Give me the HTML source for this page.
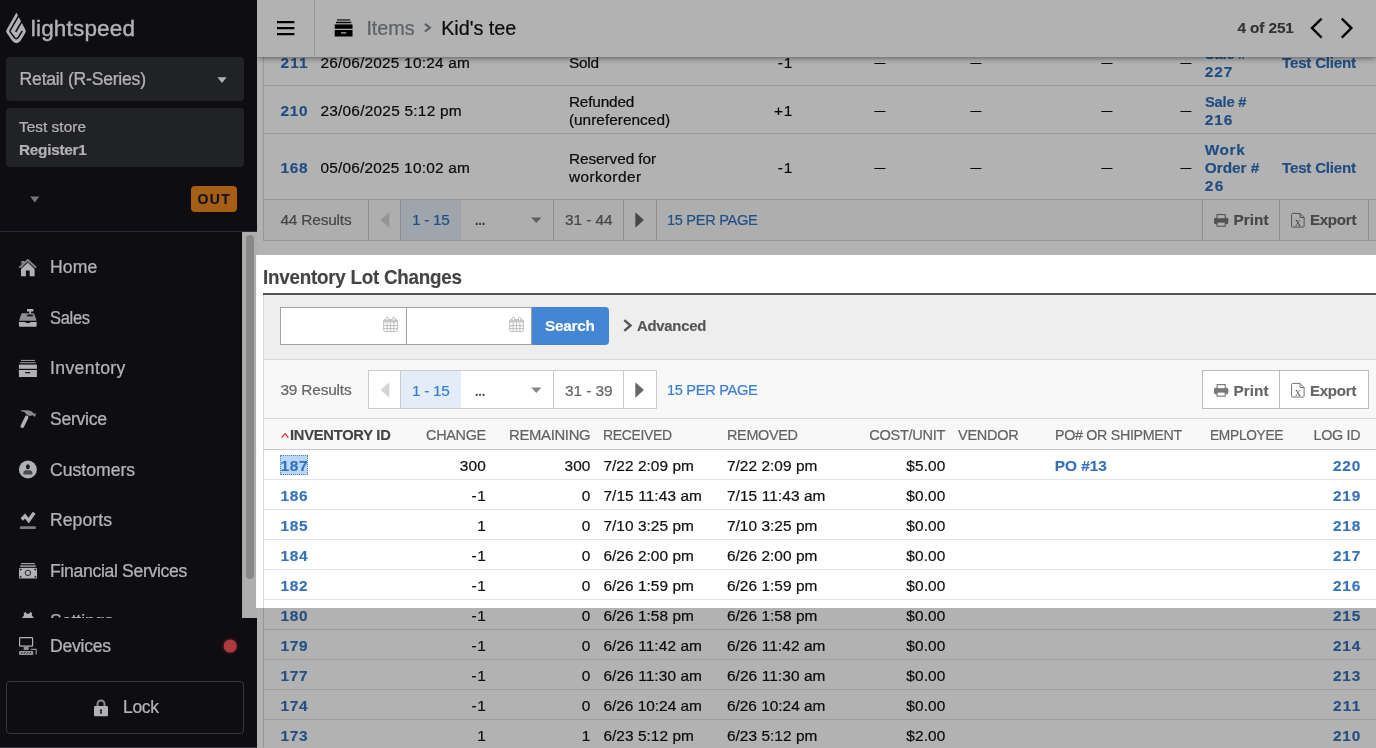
<!DOCTYPE html>
<html lang="en">
<head>
<meta charset="utf-8">
<title>Kid's tee - Lightspeed Retail</title>
<style>
html,body{margin:0;padding:0}
body{width:1376px;height:748px;overflow:hidden;position:relative;background:#fff;font-family:"Liberation Sans",sans-serif}
.t{position:absolute;white-space:pre;line-height:20px}
.a{position:absolute}
.logo{-webkit-text-stroke:.35px #fff}
.n{-webkit-text-stroke:.22px}
.b{-webkit-text-stroke:.15px}
.ln{position:absolute;background:#ddd}
#main{position:absolute;left:257px;top:0;width:1119px;height:748px;background:#fff;overflow:hidden}
#all{position:absolute;left:0;top:0;width:1376px;height:748px;overflow:hidden}
#sidebar{position:absolute;left:0;top:0;width:257px;height:748px;background:#13141a}
#sbscroll{position:absolute;left:0;top:0;width:257px;height:618px;overflow:hidden}
.dim{position:absolute;background:rgba(0,0,0,.3);z-index:50}
svg{position:absolute;overflow:visible}
</style>
</head>
<body>
<div id="all">

<!-- ================= MAIN CONTENT ================= -->
<div id="main"></div>

<!-- top table panel -->
<div class="a" style="left:263px;top:0;width:1113px;height:199px;background:#fff;border-left:1px solid #dcdcdc"></div>
<div class="ln" style="left:264px;top:85px;width:1112px;height:1px"></div>
<div class="ln" style="left:264px;top:133px;width:1112px;height:1px"></div>
<!-- top pager bar -->
<div class="a" style="left:263px;top:199px;width:1113px;height:40px;background:#f9f9f9;border:1px solid #d8d8d8;border-right:0"></div>
<div class="ln" style="left:368px;top:200px;width:1px;height:40px;background:#ccc"></div>
<div class="ln" style="left:400px;top:200px;width:1px;height:40px;background:#ccc"></div>
<div class="a" style="left:401px;top:200px;width:60px;height:40px;background:#e3edf8"></div>
<div class="ln" style="left:553px;top:200px;width:1px;height:40px;background:#ccc"></div>
<div class="ln" style="left:623px;top:200px;width:1px;height:40px;background:#ccc"></div>
<div class="ln" style="left:656px;top:200px;width:1px;height:40px;background:#ccc"></div>
<div class="ln" style="left:1202px;top:200px;width:1px;height:40px;background:#ccc"></div>
<div class="ln" style="left:1279px;top:200px;width:1px;height:40px;background:#ccc"></div>
<div class="ln" style="left:1368px;top:200px;width:1px;height:40px;background:#ccc"></div>
<svg style="left:0;top:-170.4px" width="1376" height="748" viewBox="0 0 1376 748">
  <use href="#pagericons"/>
</svg>

<!-- ===== Inventory Lot Changes ===== -->
<div class="a" style="left:263px;top:293px;width:1113px;height:2px;background:#555"></div>
<div class="a" style="left:263px;top:295px;width:1113px;height:64px;background:#eee;border-left:1px solid #d8d8d8;box-sizing:border-box"></div>
<div class="ln" style="left:263px;top:359px;width:1113px;height:1px;background:#d8d8d8"></div>
<!-- inputs -->
<div class="a" style="left:280px;top:307px;width:252px;height:38px;background:#fff;border:1px solid #a2a2a2;box-sizing:border-box"></div>
<div class="ln" style="left:406px;top:308px;width:1px;height:36px;background:#a2a2a2"></div>
<div class="a" style="left:532px;top:307px;width:77px;height:38px;background:#4286d4;border-radius:0 4px 4px 0"></div>
<svg style="left:0;top:0" width="1376" height="748" viewBox="0 0 1376 748">
  <defs>
    <g id="cal" fill="none" stroke="#bdbdbd" stroke-width="1">
      <rect x="0.5" y="3" width="13.6" height="12" rx="1.4"/>
      <path d="M0.5 4.6h13.6" stroke-width="2.6" stroke="#c6c6c6"/>
      <path d="M0.5 9h13.6M0.5 12h13.6M3.9 6v9M7.300 6v9M10.700 6v9"/>
      <rect x="2.900" y="0.600" width="2.300" height="3.800" rx="1.100" fill="#fff"/>
      <rect x="9.400" y="0.600" width="2.300" height="3.800" rx="1.100" fill="#fff"/>
    </g>
    <g id="pagericons">
      <path d="M389.3 382.3L380.7 390L389.3 397.7Z" fill="#d3d3d3"/>
      <path d="M635.3 382.3L643.9 390L635.3 397.7Z" fill="#666"/>
      <path d="M531.2 387.5h10.2l-5.1 5.6z" fill="#888"/>
      <!-- print icon -->
      <g fill="#777">
        <rect x="1214" y="387.7" width="14.3" height="6.5" rx="1.6"/>
        <rect x="1217.1" y="384.6" width="8.1" height="4.2" fill="#fff" stroke="#777" stroke-width="1.1"/>
        <rect x="1217.1" y="392.1" width="8.1" height="4.1" fill="#fff" stroke="#777" stroke-width="1.1"/>
      </g>
      <!-- export icon -->
      <g fill="none" stroke="#777" stroke-width="1">
        <path d="M1292.6 383.4h7.4l4.1 4.1v8.6a1 1 0 0 1-1 1h-10.5a1 1 0 0 1-1-1v-11.7a1 1 0 0 1 1-1z"/>
        <path d="M1300 383.4v4.1h4.1"/>
      </g>
      <text x="1297.9" y="395.7" text-anchor="middle" font-family="'Liberation Serif',serif" font-size="12.5" fill="#666">x</text>
    </g>
  </defs>
  <use href="#cal" x="383.2" y="316.6"/>
  <use href="#cal" x="509.2" y="316.6"/>
  <path d="M624.3 320.2L630.5 325.5L624.3 330.8" fill="none" stroke="#555" stroke-width="2.4"/>
</svg>
<!-- pager panel -->
<div class="a" style="left:263px;top:360px;width:1113px;height:58px;background:#f8f8f8;border-left:1px solid #d8d8d8;box-sizing:border-box"></div>
<div class="a" style="left:368px;top:370px;width:289px;height:39px;background:#fff;border:1px solid #ccc;box-sizing:border-box"></div>
<div class="ln" style="left:400px;top:371px;width:1px;height:37px;background:#ccc"></div>
<div class="a" style="left:401px;top:371px;width:60px;height:37px;background:#e3edf8"></div>
<div class="ln" style="left:553px;top:371px;width:1px;height:37px;background:#ccc"></div>
<div class="ln" style="left:623px;top:371px;width:1px;height:37px;background:#ccc"></div>
<div class="a" style="left:1202px;top:370px;width:167px;height:39px;background:#fff;border:1px solid #bbb;box-sizing:border-box"></div>
<div class="ln" style="left:1279px;top:371px;width:1px;height:37px;background:#bbb"></div>
<svg style="left:0;top:0" width="1376" height="748" viewBox="0 0 1376 748"><use href="#pagericons"/></svg>
<!-- table header -->
<div class="ln" style="left:263px;top:418px;width:1113px;height:1px;background:#d8d8d8"></div>
<div class="a" style="left:263px;top:419px;width:1113px;height:30px;background:#f8f8f8;border-left:1px solid #d8d8d8;box-sizing:border-box"></div>
<div class="ln" style="left:263px;top:449px;width:1113px;height:1px;background:#c8c8c8"></div>
<svg style="left:0;top:0" width="1376" height="748" viewBox="0 0 1376 748"><path d="M281.6 437.6L285 433.8L288.4 437.6" fill="none" stroke="#e0333f" stroke-width="1.3"/></svg>
<!-- rows -->
<div class="a" style="left:263px;top:450px;width:1px;height:298px;background:#d8d8d8"></div>
<div class="ln" style="left:264px;top:479px;width:1112px;height:1px;background:#e2e2e2"></div>
<div class="ln" style="left:264px;top:509px;width:1112px;height:1px;background:#e2e2e2"></div>
<div class="ln" style="left:264px;top:539px;width:1112px;height:1px;background:#e2e2e2"></div>
<div class="ln" style="left:264px;top:569px;width:1112px;height:1px;background:#e2e2e2"></div>
<div class="ln" style="left:264px;top:599px;width:1112px;height:1px;background:#e2e2e2"></div>
<div class="ln" style="left:264px;top:629px;width:1112px;height:1px;background:#e2e2e2"></div>
<div class="ln" style="left:264px;top:659px;width:1112px;height:1px;background:#e2e2e2"></div>
<div class="ln" style="left:264px;top:689px;width:1112px;height:1px;background:#e2e2e2"></div>
<div class="ln" style="left:264px;top:719px;width:1112px;height:1px;background:#e2e2e2"></div>
<!-- selection on 187 -->
<div class="a" style="left:280px;top:455px;width:28px;height:20px;background:#b9d6fb;border:1px dotted #5b7fae;box-sizing:border-box"></div>

<span class="t b" style="left:280.40px;font-size:15.4px;font-weight:700;color:#2f6fba;top:53px;letter-spacing:1.194px;">211</span>
<span class="t n" style="left:320.40px;font-size:15.4px;font-weight:400;color:#111;top:53px;letter-spacing:0.219px;">26/06/2025 10:24 am</span>
<span class="t n" style="left:568.90px;font-size:15.4px;font-weight:400;color:#111;top:53px;letter-spacing:-0.194px;">Sold</span>
<span class="t n" style="right:583.08px;font-size:15.4px;font-weight:400;color:#111;top:53px;letter-spacing:0.723px;">-1</span>
<span class="t n" style="right:490.20px;font-size:15.4px;font-weight:400;color:#111;top:52px;letter-spacing:0.000px;transform:scaleX(0.7017);transform-origin:100% 50%;">—</span>
<span class="t n" style="right:394.40px;font-size:15.4px;font-weight:400;color:#111;top:52px;letter-spacing:0.000px;transform:scaleX(0.7017);transform-origin:100% 50%;">—</span>
<span class="t n" style="right:263.60px;font-size:15.4px;font-weight:400;color:#111;top:52px;letter-spacing:0.000px;transform:scaleX(0.7017);transform-origin:100% 50%;">—</span>
<span class="t n" style="right:184.20px;font-size:15.4px;font-weight:400;color:#111;top:52px;letter-spacing:0.000px;transform:scaleX(0.7017);transform-origin:100% 50%;">—</span>
<span class="t b" style="left:1204.70px;font-size:15.4px;font-weight:700;color:#2f6fba;top:44px;letter-spacing:-0.250px;transform:scaleX(0.9567);transform-origin:0 50%;">Sale #</span>
<span class="t b" style="left:1204.70px;font-size:15.4px;font-weight:700;color:#2f6fba;top:62px;letter-spacing:1.022px;">227</span>
<span class="t b" style="right:20.45px;font-size:15.4px;font-weight:700;color:#2f6fba;top:53px;letter-spacing:-0.250px;transform:scaleX(0.9851);transform-origin:100% 50%;">Test Client</span>
<span class="t b" style="left:280.40px;font-size:15.4px;font-weight:700;color:#2f6fba;top:101px;letter-spacing:0.772px;">210</span>
<span class="t n" style="left:320.40px;font-size:15.4px;font-weight:400;color:#111;top:101px;letter-spacing:0.254px;">23/06/2025 5:12 pm</span>
<span class="t n" style="left:568.90px;font-size:15.4px;font-weight:400;color:#111;top:92px;letter-spacing:-0.174px;">Refunded</span>
<span class="t n" style="left:568.90px;font-size:15.4px;font-weight:400;color:#111;top:110px;letter-spacing:0.021px;">(unreferenced)</span>
<span class="t n" style="right:583.22px;font-size:15.4px;font-weight:400;color:#111;top:101px;letter-spacing:0.579px;">+1</span>
<span class="t n" style="right:490.20px;font-size:15.4px;font-weight:400;color:#111;top:100px;letter-spacing:0.000px;transform:scaleX(0.7017);transform-origin:100% 50%;">—</span>
<span class="t n" style="right:394.40px;font-size:15.4px;font-weight:400;color:#111;top:100px;letter-spacing:0.000px;transform:scaleX(0.7017);transform-origin:100% 50%;">—</span>
<span class="t n" style="right:263.60px;font-size:15.4px;font-weight:400;color:#111;top:100px;letter-spacing:0.000px;transform:scaleX(0.7017);transform-origin:100% 50%;">—</span>
<span class="t n" style="right:184.20px;font-size:15.4px;font-weight:400;color:#111;top:100px;letter-spacing:0.000px;transform:scaleX(0.7017);transform-origin:100% 50%;">—</span>
<span class="t b" style="left:1204.70px;font-size:15.4px;font-weight:700;color:#2f6fba;top:92px;letter-spacing:-0.250px;transform:scaleX(0.9567);transform-origin:0 50%;">Sale #</span>
<span class="t b" style="left:1204.70px;font-size:15.4px;font-weight:700;color:#2f6fba;top:110px;letter-spacing:1.022px;">216</span>
<span class="t b" style="left:280.40px;font-size:15.4px;font-weight:700;color:#2f6fba;top:158px;letter-spacing:0.772px;">168</span>
<span class="t n" style="left:320.40px;font-size:15.4px;font-weight:400;color:#111;top:158px;letter-spacing:0.219px;">05/06/2025 10:02 am</span>
<span class="t n" style="left:568.90px;font-size:15.4px;font-weight:400;color:#111;top:149px;letter-spacing:-0.080px;">Reserved for</span>
<span class="t n" style="left:568.90px;font-size:15.4px;font-weight:400;color:#111;top:167px;letter-spacing:0.474px;">workorder</span>
<span class="t n" style="right:583.08px;font-size:15.4px;font-weight:400;color:#111;top:158px;letter-spacing:0.723px;">-1</span>
<span class="t n" style="right:490.20px;font-size:15.4px;font-weight:400;color:#111;top:157px;letter-spacing:0.000px;transform:scaleX(0.7017);transform-origin:100% 50%;">—</span>
<span class="t n" style="right:394.40px;font-size:15.4px;font-weight:400;color:#111;top:157px;letter-spacing:0.000px;transform:scaleX(0.7017);transform-origin:100% 50%;">—</span>
<span class="t n" style="right:263.60px;font-size:15.4px;font-weight:400;color:#111;top:157px;letter-spacing:0.000px;transform:scaleX(0.7017);transform-origin:100% 50%;">—</span>
<span class="t n" style="right:184.20px;font-size:15.4px;font-weight:400;color:#111;top:157px;letter-spacing:0.000px;transform:scaleX(0.7017);transform-origin:100% 50%;">—</span>
<span class="t b" style="left:1204.70px;font-size:15.4px;font-weight:700;color:#2f6fba;top:140px;letter-spacing:0.643px;">Work</span>
<span class="t b" style="left:1204.70px;font-size:15.4px;font-weight:700;color:#2f6fba;top:158px;letter-spacing:-0.003px;">Order #</span>
<span class="t b" style="left:1204.70px;font-size:15.4px;font-weight:700;color:#2f6fba;top:176px;letter-spacing:1.607px;">26</span>
<span class="t b" style="right:20.45px;font-size:15.4px;font-weight:700;color:#2f6fba;top:158px;letter-spacing:-0.250px;transform:scaleX(0.9851);transform-origin:100% 50%;">Test Client</span>
<span class="t n" style="left:280.40px;font-size:15.4px;font-weight:400;color:#666;top:210px;letter-spacing:-0.165px;">44 Results</span>
<span class="t n" style="left:412.40px;font-size:15.4px;font-weight:400;color:#3273c0;top:210px;letter-spacing:-0.320px;transform:scaleX(0.9993);transform-origin:0 50%;">1 - 15</span>
<span class="t b" style="left:475.00px;font-size:15.4px;font-weight:700;color:#555;top:210px;letter-spacing:-0.250px;transform:scaleX(0.8291);transform-origin:0 50%;">...</span>
<span class="t n" style="left:564.90px;font-size:15.4px;font-weight:400;color:#666;top:210px;letter-spacing:-0.048px;">31 - 44</span>
<span class="t n" style="left:667.00px;font-size:15.4px;font-weight:400;color:#3273c0;top:210px;letter-spacing:-0.320px;transform:scaleX(0.9479);transform-origin:0 50%;">15 PER PAGE</span>
<span class="t b" style="right:107.41px;font-size:15.4px;font-weight:700;color:#666;top:210px;letter-spacing:-0.008px;">Print</span>
<span class="t b" style="right:19.35px;font-size:15.4px;font-weight:700;color:#666;top:210px;letter-spacing:-0.250px;transform:scaleX(0.9812);transform-origin:100% 50%;">Export</span>
<span class="t b" style="left:263.30px;font-size:19.8px;font-weight:700;color:#444;top:267px;letter-spacing:-0.250px;transform:scaleX(0.9507);transform-origin:0 50%;">Inventory Lot Changes</span>
<span class="t b" style="left:545.40px;font-size:15.4px;font-weight:700;color:#fff;top:316px;letter-spacing:-0.250px;transform:scaleX(0.9926);transform-origin:0 50%;">Search</span>
<span class="t b" style="left:637.10px;font-size:15.4px;font-weight:700;color:#555;top:316px;letter-spacing:-0.250px;transform:scaleX(0.9649);transform-origin:0 50%;">Advanced</span>
<span class="t n" style="left:280.40px;font-size:15.4px;font-weight:400;color:#666;top:380px;letter-spacing:-0.165px;">39 Results</span>
<span class="t n" style="left:412.40px;font-size:15.4px;font-weight:400;color:#3b7fd4;top:381px;letter-spacing:-0.320px;transform:scaleX(0.9993);transform-origin:0 50%;">1 - 15</span>
<span class="t b" style="left:475.00px;font-size:15.4px;font-weight:700;color:#555;top:381px;letter-spacing:-0.250px;transform:scaleX(0.8291);transform-origin:0 50%;">...</span>
<span class="t n" style="left:564.90px;font-size:15.4px;font-weight:400;color:#666;top:381px;letter-spacing:-0.048px;">31 - 39</span>
<span class="t n" style="left:667.00px;font-size:15.4px;font-weight:400;color:#3b7fd4;top:380px;letter-spacing:-0.320px;transform:scaleX(0.9479);transform-origin:0 50%;">15 PER PAGE</span>
<span class="t b" style="right:107.41px;font-size:15.4px;font-weight:700;color:#666;top:381px;letter-spacing:-0.008px;">Print</span>
<span class="t b" style="right:19.35px;font-size:15.4px;font-weight:700;color:#666;top:381px;letter-spacing:-0.250px;transform:scaleX(0.9812);transform-origin:100% 50%;">Export</span>
<span class="t b" style="left:289.80px;font-size:15.4px;font-weight:700;color:#444;top:425px;letter-spacing:-0.250px;transform:scaleX(0.9545);transform-origin:0 50%;">INVENTORY ID</span>
<span class="t n" style="right:890.50px;font-size:15.4px;font-weight:400;color:#636363;top:425px;letter-spacing:-0.320px;transform:scaleX(0.9361);transform-origin:100% 50%;">CHANGE</span>
<span class="t n" style="right:785.91px;font-size:15.4px;font-weight:400;color:#636363;top:425px;letter-spacing:-0.320px;transform:scaleX(0.9649);transform-origin:100% 50%;">REMAINING</span>
<span class="t n" style="left:603.40px;font-size:15.4px;font-weight:400;color:#636363;top:425px;letter-spacing:-0.320px;transform:scaleX(0.9041);transform-origin:0 50%;">RECEIVED</span>
<span class="t n" style="left:726.90px;font-size:15.4px;font-weight:400;color:#636363;top:425px;letter-spacing:-0.320px;transform:scaleX(0.9347);transform-origin:0 50%;">REMOVED</span>
<span class="t n" style="right:431.00px;font-size:15.4px;font-weight:400;color:#636363;top:425px;letter-spacing:-0.320px;transform:scaleX(0.9476);transform-origin:100% 50%;">COST/UNIT</span>
<span class="t n" style="left:958.00px;font-size:15.4px;font-weight:400;color:#636363;top:425px;letter-spacing:-0.320px;transform:scaleX(0.9456);transform-origin:0 50%;">VENDOR</span>
<span class="t n" style="left:1054.80px;font-size:15.4px;font-weight:400;color:#636363;top:425px;letter-spacing:-0.320px;transform:scaleX(0.9255);transform-origin:0 50%;">PO# OR SHIPMENT</span>
<span class="t n" style="left:1209.70px;font-size:15.4px;font-weight:400;color:#636363;top:425px;letter-spacing:-0.320px;transform:scaleX(0.8915);transform-origin:0 50%;">EMPLOYEE</span>
<span class="t n" style="right:16.00px;font-size:15.4px;font-weight:400;color:#636363;top:425px;letter-spacing:-0.320px;transform:scaleX(0.9303);transform-origin:100% 50%;">LOG ID</span>
<span class="t b" style="left:280.40px;font-size:15.4px;font-weight:700;color:#3572bc;top:456px;letter-spacing:0.772px;">187</span>
<span class="t n" style="right:890.06px;font-size:15.4px;font-weight:400;color:#111;top:456px;letter-spacing:0.138px;">300</span>
<span class="t n" style="right:785.46px;font-size:15.4px;font-weight:400;color:#111;top:456px;letter-spacing:0.138px;">300</span>
<span class="t n" style="left:603.40px;font-size:15.4px;font-weight:400;color:#111;top:456px;letter-spacing:0.053px;">7/22 2:09 pm</span>
<span class="t n" style="left:726.90px;font-size:15.4px;font-weight:400;color:#111;top:456px;letter-spacing:0.053px;">7/22 2:09 pm</span>
<span class="t n" style="right:430.57px;font-size:15.4px;font-weight:400;color:#111;top:456px;letter-spacing:0.129px;">$5.00</span>
<span class="t b" style="left:1054.80px;font-size:15.4px;font-weight:700;color:#3572bc;top:456px;letter-spacing:-0.034px;">PO #13</span>
<span class="t b" style="right:14.88px;font-size:15.4px;font-weight:700;color:#3572bc;top:456px;letter-spacing:0.822px;">220</span>
<span class="t b" style="left:280.40px;font-size:15.4px;font-weight:700;color:#3572bc;top:486px;letter-spacing:0.772px;">186</span>
<span class="t n" style="right:889.48px;font-size:15.4px;font-weight:400;color:#111;top:486px;letter-spacing:0.723px;">-1</span>
<span class="t n" style="right:785.60px;font-size:15.4px;font-weight:400;color:#111;top:486px;letter-spacing:0.000px;">0</span>
<span class="t n" style="left:603.40px;font-size:15.4px;font-weight:400;color:#111;top:486px;letter-spacing:0.106px;">7/15 11:43 am</span>
<span class="t n" style="left:726.90px;font-size:15.4px;font-weight:400;color:#111;top:486px;letter-spacing:0.106px;">7/15 11:43 am</span>
<span class="t n" style="right:430.57px;font-size:15.4px;font-weight:400;color:#111;top:486px;letter-spacing:0.129px;">$0.00</span>
<span class="t b" style="right:14.88px;font-size:15.4px;font-weight:700;color:#3572bc;top:486px;letter-spacing:0.822px;">219</span>
<span class="t b" style="left:280.40px;font-size:15.4px;font-weight:700;color:#3572bc;top:516px;letter-spacing:0.772px;">185</span>
<span class="t n" style="right:890.20px;font-size:15.4px;font-weight:400;color:#111;top:516px;letter-spacing:0.000px;">1</span>
<span class="t n" style="right:785.60px;font-size:15.4px;font-weight:400;color:#111;top:516px;letter-spacing:0.000px;">0</span>
<span class="t n" style="left:603.40px;font-size:15.4px;font-weight:400;color:#111;top:516px;letter-spacing:0.053px;">7/10 3:25 pm</span>
<span class="t n" style="left:726.90px;font-size:15.4px;font-weight:400;color:#111;top:516px;letter-spacing:0.053px;">7/10 3:25 pm</span>
<span class="t n" style="right:430.57px;font-size:15.4px;font-weight:400;color:#111;top:516px;letter-spacing:0.129px;">$0.00</span>
<span class="t b" style="right:14.88px;font-size:15.4px;font-weight:700;color:#3572bc;top:516px;letter-spacing:0.822px;">218</span>
<span class="t b" style="left:280.40px;font-size:15.4px;font-weight:700;color:#3572bc;top:546px;letter-spacing:0.772px;">184</span>
<span class="t n" style="right:889.48px;font-size:15.4px;font-weight:400;color:#111;top:546px;letter-spacing:0.723px;">-1</span>
<span class="t n" style="right:785.60px;font-size:15.4px;font-weight:400;color:#111;top:546px;letter-spacing:0.000px;">0</span>
<span class="t n" style="left:603.40px;font-size:15.4px;font-weight:400;color:#111;top:546px;letter-spacing:0.053px;">6/26 2:00 pm</span>
<span class="t n" style="left:726.90px;font-size:15.4px;font-weight:400;color:#111;top:546px;letter-spacing:0.053px;">6/26 2:00 pm</span>
<span class="t n" style="right:430.57px;font-size:15.4px;font-weight:400;color:#111;top:546px;letter-spacing:0.129px;">$0.00</span>
<span class="t b" style="right:14.88px;font-size:15.4px;font-weight:700;color:#3572bc;top:546px;letter-spacing:0.822px;">217</span>
<span class="t b" style="left:280.40px;font-size:15.4px;font-weight:700;color:#3572bc;top:576px;letter-spacing:0.772px;">182</span>
<span class="t n" style="right:889.48px;font-size:15.4px;font-weight:400;color:#111;top:576px;letter-spacing:0.723px;">-1</span>
<span class="t n" style="right:785.60px;font-size:15.4px;font-weight:400;color:#111;top:576px;letter-spacing:0.000px;">0</span>
<span class="t n" style="left:603.40px;font-size:15.4px;font-weight:400;color:#111;top:576px;letter-spacing:0.053px;">6/26 1:59 pm</span>
<span class="t n" style="left:726.90px;font-size:15.4px;font-weight:400;color:#111;top:576px;letter-spacing:0.053px;">6/26 1:59 pm</span>
<span class="t n" style="right:430.57px;font-size:15.4px;font-weight:400;color:#111;top:576px;letter-spacing:0.129px;">$0.00</span>
<span class="t b" style="right:14.88px;font-size:15.4px;font-weight:700;color:#3572bc;top:576px;letter-spacing:0.822px;">216</span>
<span class="t b" style="left:280.40px;font-size:15.4px;font-weight:700;color:#3572bc;top:606px;letter-spacing:0.772px;">180</span>
<span class="t n" style="right:889.48px;font-size:15.4px;font-weight:400;color:#111;top:606px;letter-spacing:0.723px;">-1</span>
<span class="t n" style="right:785.60px;font-size:15.4px;font-weight:400;color:#111;top:606px;letter-spacing:0.000px;">0</span>
<span class="t n" style="left:603.40px;font-size:15.4px;font-weight:400;color:#111;top:606px;letter-spacing:0.053px;">6/26 1:58 pm</span>
<span class="t n" style="left:726.90px;font-size:15.4px;font-weight:400;color:#111;top:606px;letter-spacing:0.053px;">6/26 1:58 pm</span>
<span class="t n" style="right:430.57px;font-size:15.4px;font-weight:400;color:#111;top:606px;letter-spacing:0.129px;">$0.00</span>
<span class="t b" style="right:14.88px;font-size:15.4px;font-weight:700;color:#3572bc;top:606px;letter-spacing:0.822px;">215</span>
<span class="t b" style="left:280.40px;font-size:15.4px;font-weight:700;color:#3572bc;top:636px;letter-spacing:0.772px;">179</span>
<span class="t n" style="right:889.48px;font-size:15.4px;font-weight:400;color:#111;top:636px;letter-spacing:0.723px;">-1</span>
<span class="t n" style="right:785.60px;font-size:15.4px;font-weight:400;color:#111;top:636px;letter-spacing:0.000px;">0</span>
<span class="t n" style="left:603.40px;font-size:15.4px;font-weight:400;color:#111;top:636px;letter-spacing:0.106px;">6/26 11:42 am</span>
<span class="t n" style="left:726.90px;font-size:15.4px;font-weight:400;color:#111;top:636px;letter-spacing:0.106px;">6/26 11:42 am</span>
<span class="t n" style="right:430.57px;font-size:15.4px;font-weight:400;color:#111;top:636px;letter-spacing:0.129px;">$0.00</span>
<span class="t b" style="right:14.88px;font-size:15.4px;font-weight:700;color:#3572bc;top:636px;letter-spacing:0.822px;">214</span>
<span class="t b" style="left:280.40px;font-size:15.4px;font-weight:700;color:#3572bc;top:666px;letter-spacing:0.772px;">177</span>
<span class="t n" style="right:889.48px;font-size:15.4px;font-weight:400;color:#111;top:666px;letter-spacing:0.723px;">-1</span>
<span class="t n" style="right:785.60px;font-size:15.4px;font-weight:400;color:#111;top:666px;letter-spacing:0.000px;">0</span>
<span class="t n" style="left:603.40px;font-size:15.4px;font-weight:400;color:#111;top:666px;letter-spacing:0.106px;">6/26 11:30 am</span>
<span class="t n" style="left:726.90px;font-size:15.4px;font-weight:400;color:#111;top:666px;letter-spacing:0.106px;">6/26 11:30 am</span>
<span class="t n" style="right:430.57px;font-size:15.4px;font-weight:400;color:#111;top:666px;letter-spacing:0.129px;">$0.00</span>
<span class="t b" style="right:14.88px;font-size:15.4px;font-weight:700;color:#3572bc;top:666px;letter-spacing:0.822px;">213</span>
<span class="t b" style="left:280.40px;font-size:15.4px;font-weight:700;color:#3572bc;top:696px;letter-spacing:0.772px;">174</span>
<span class="t n" style="right:889.48px;font-size:15.4px;font-weight:400;color:#111;top:696px;letter-spacing:0.723px;">-1</span>
<span class="t n" style="right:785.60px;font-size:15.4px;font-weight:400;color:#111;top:696px;letter-spacing:0.000px;">0</span>
<span class="t n" style="left:603.40px;font-size:15.4px;font-weight:400;color:#111;top:696px;letter-spacing:0.010px;">6/26 10:24 am</span>
<span class="t n" style="left:726.90px;font-size:15.4px;font-weight:400;color:#111;top:696px;letter-spacing:0.010px;">6/26 10:24 am</span>
<span class="t n" style="right:430.57px;font-size:15.4px;font-weight:400;color:#111;top:696px;letter-spacing:0.129px;">$0.00</span>
<span class="t b" style="right:14.46px;font-size:15.4px;font-weight:700;color:#3572bc;top:696px;letter-spacing:1.244px;">211</span>
<span class="t b" style="left:280.40px;font-size:15.4px;font-weight:700;color:#3572bc;top:726px;letter-spacing:0.772px;">173</span>
<span class="t n" style="right:890.20px;font-size:15.4px;font-weight:400;color:#111;top:726px;letter-spacing:0.000px;">1</span>
<span class="t n" style="right:785.60px;font-size:15.4px;font-weight:400;color:#111;top:726px;letter-spacing:0.000px;">1</span>
<span class="t n" style="left:603.40px;font-size:15.4px;font-weight:400;color:#111;top:726px;letter-spacing:0.053px;">6/23 5:12 pm</span>
<span class="t n" style="left:726.90px;font-size:15.4px;font-weight:400;color:#111;top:726px;letter-spacing:0.053px;">6/23 5:12 pm</span>
<span class="t n" style="right:430.57px;font-size:15.4px;font-weight:400;color:#111;top:726px;letter-spacing:0.129px;">$2.00</span>
<span class="t b" style="right:14.88px;font-size:15.4px;font-weight:700;color:#3572bc;top:726px;letter-spacing:0.822px;">210</span>
<div class="a" style="left:257px;top:0;width:1119px;height:57px;background:#fff;box-shadow:0 1px 7px rgba(0,0,0,.26)"></div>
<!-- ================= TOP HEADER ================= -->
<div class="a" style="left:257px;top:0;width:1119px;height:57px;background:#fff;box-shadow:0 1px 5px rgba(0,0,0,.28)"></div>
<div class="ln" style="left:314px;top:0;width:1px;height:57px;background:#dcdcdc"></div>
<svg style="left:0;top:0" width="1376" height="60" viewBox="0 0 1376 60">
  <path d="M277 22.2h17.4M277 28.2h17.4M277 34.2h17.4" stroke="#000" stroke-width="2.2" fill="none"/>
  <!-- inventory icon black -->
  <g fill="#000">
    <rect x="337" y="19.4" width="13.2" height="1.1"/>
    <rect x="336" y="21.8" width="15.2" height="1.4"/>
    <rect x="334.7" y="24.4" width="17.8" height="4.4"/>
    <path d="M334.7 30h17.8v6.4h-17.8zM341 32.2v1.3h5.2v-1.3z" fill-rule="evenodd"/>
  </g>
  <path d="M424.9 23.9L429.9 27.7L424.9 31.5" fill="none" stroke="#7a818f" stroke-width="2"/>
  <path d="M1321.6 18.6L1312 28.1L1321.6 37.6" fill="none" stroke="#000" stroke-width="2.4"/>
  <path d="M1341.8 18.6L1351.4 28.1L1341.8 37.6" fill="none" stroke="#000" stroke-width="2.4"/>
</svg>


<span class="t n" style="left:366.40px;font-size:19.8px;font-weight:400;color:#868b91;top:18px;letter-spacing:-0.048px;">Items</span>
<span class="t n" style="left:441.20px;font-size:19.8px;font-weight:400;color:#111;top:18px;letter-spacing:-0.023px;">Kid's tee</span>
<span class="t b" style="right:82.23px;font-size:15.4px;font-weight:700;color:#4a4a4a;top:18px;letter-spacing:-0.128px;">4 of 251</span>

<!-- ================= SIDEBAR ================= -->
<div id="sidebar"></div>
<!-- logo flame -->
<svg style="left:0;top:0" width="257" height="60" viewBox="0 0 257 60">
  <path d="M16.4 12.600L6.600 29.700Q5.700 31.200 6.600 32.700L12.400 41.100Q16.400 45.200 20.400 41.100L25.400 32.700Q26.300 31.200 25.400 29.700Z" fill="#fff"/>
  <path d="M18.600 15.800L10.300 30.200Q9.700 31.200 10.300 32.100L14.600 37.800Q16.300 39.600 18 37.800L22.300 30.900" fill="none" stroke="#13141a" stroke-width="1.500" stroke-linecap="butt" stroke-linejoin="round"/>
  <path d="M22.300 20.700L15.700 31.900" fill="none" stroke="#13141a" stroke-width="1.600"/>
</svg>
<div class="a" style="left:6px;top:57px;width:238px;height:44px;background:#303237;border-radius:4px"></div>
<div class="a" style="left:6px;top:108px;width:238px;height:59px;background:#303237;border-radius:4px"></div>
<svg style="left:0;top:0" width="257" height="748" viewBox="0 0 257 748">
  <path d="M217.400 77.200h9.200l-4.600 5.800z" fill="#fff"/>
  <path d="M30.200 196.400h9.200l-4.600 6z" fill="#a9a9a9"/>
</svg>
<div class="a" style="left:191px;top:186px;width:46px;height:26px;background:#ec871c;border-radius:4px"></div>
<div class="ln" style="left:0;top:231px;width:257px;height:1px;background:#3b4454"></div>
<!-- scrollbar -->
<div class="a" style="left:242px;top:232px;width:15px;height:386px;background:#f9f9f9;border-left:1px solid #ececec;box-sizing:border-box"></div>
<div class="a" style="left:246px;top:235px;width:8px;height:344px;background:#c4c4c4;border-radius:4px"></div>

<div id="sbscroll">
<svg style="left:0;top:0" width="257" height="748" viewBox="0 0 257 748">
  <!-- home -->
  <g>
    <path d="M21.300 264.300v-3.300h3.200v1z" fill="#c8c8c8"/>
    <path d="M21 267.800l6.800-6.300l6.800 6.300v8.400h-4.900v-5.800h-3.800v5.800h-4.900z" fill="#fff"/>
    <path d="M20.3 269.3l7.5-7l7.500 7" fill="none" stroke="#13141a" stroke-width="0.9"/>
    <path d="M19.400 267.700l8.400-7.800l8.400 7.800" fill="none" stroke="#c8c8c8" stroke-width="1.7"/>
  </g>
  <!-- sales -->
  <g>
    <rect x="27" y="309" width="6.400" height="2.500" rx="0.500" fill="#fff"/>
    <rect x="29.300" y="311" width="1.800" height="2.600" fill="#fff"/>
    <path d="M22.300 313.200h11a1 1 0 0 1 1 .700l2.300 6.900h-17.600l2.300-6.900a1 1 0 0 1 1-.700z" fill="#cdcdcd"/>
    <rect x="27.100" y="314.500" width="5.800" height="1.900" fill="#1d2236"/>
    <path d="M18.900 322h6.200l1.100 1.100h3.200l1.100-1.100h6.200v3.500a1.200 1.200 0 0 1-1.200 1.200h-15.400a1.200 1.200 0 0 1-1.200-1.200z" fill="#fff"/>
  </g>
  <!-- inventory -->
  <g>
    <rect x="21" y="359.9" width="13.9" height="1.1" fill="#d4d4d4"/>
    <rect x="19.9" y="362" width="15.9" height="1.3" fill="#b4b4b4"/>
    <rect x="18.900" y="364.600" width="18" height="4.200" fill="#fff"/>
    <rect x="18.900" y="370" width="18" height="7" fill="#fff"/>
    <rect x="25.200" y="372" width="4.900" height="1.300" fill="#1d2236"/>
  </g>
  <!-- service (hammer) -->
  <g>
    <path d="M22.3 426.2L26.7 417.3" stroke="#fff" stroke-width="3.6" stroke-linecap="round" fill="none"/>
    <path d="M20.900 410.300h6.600c2.500 0 4.300 1 5.800 2.600l1 .9l2.200-.3l-2 3.500l-1.500-1.700l-2.200.5c-1.800.4-4.200-.6-5.100-2.200c-.8-1.400-2.300-2.300-4.800-2.300z" fill="#c8c8c8"/>
  </g>
  <!-- customers -->
  <g>
    <circle cx="27.900" cy="469.500" r="9" fill="#fff"/>
    <ellipse cx="27.900" cy="466.800" rx="1.950" ry="2.500" fill="#1d2236"/>
    <path d="M23.400 474.600v-1.600c0-1.800 1.300-2.800 2.700-2.800h3.600c1.400 0 2.700 1 2.700 2.800v1.600z" fill="#666a73"/>
  </g>
  <!-- reports -->
  <g>
    <path d="M21.8 519.5L25 516.1L28.7 520.5L34.2 512.7" fill="none" stroke="#fff" stroke-width="3.4"/>
    <rect x="19.9" y="526.2" width="16" height="2.7" rx="0.6" fill="#b4b4b4"/>
  </g>
  <!-- financial services -->
  <g>
    <rect x="21" y="563.100" width="13.900" height="1.100" fill="#fff"/>
    <rect x="20.100" y="565.200" width="15.800" height="2" fill="#c0c0c0"/>
    <rect x="19" y="567.900" width="18" height="10.700" rx="1.200" fill="#fff"/>
    <circle cx="27.900" cy="572.900" r="2.700" fill="none" stroke="#1d2236" stroke-width="0.900"/>
    <path d="M20 570.300l1.400-1.400M36 570.300l-1.400-1.400M20 576.200l1.400 1.400M36 576.200l-1.400 1.400" stroke="#1d2236" stroke-width="1.300" fill="none"/>
  </g>
  <!-- settings gear (clipped) -->
  <g fill="#fff" transform="translate(0 0.8)">
    <path d="M19 618l3.500-1.200l1.600-2.600l-.5-2l2-.9l1.300 1.700h2l1.300-1.700l2 .9l-.5 2l1.600 2.600l3.500 1.200v4h-18z"/>
  </g>
</svg>
<span class="t n" style="left:50.00px;font-size:17.6px;font-weight:400;color:#fff;top:257px;letter-spacing:0.123px;">Home</span>
<span class="t n" style="left:50.00px;font-size:17.6px;font-weight:400;color:#fff;top:308px;letter-spacing:-0.320px;transform:scaleX(0.9364);transform-origin:0 50%;">Sales</span>
<span class="t n" style="left:50.00px;font-size:17.6px;font-weight:400;color:#fff;top:358px;letter-spacing:0.379px;">Inventory</span>
<span class="t n" style="left:50.00px;font-size:17.6px;font-weight:400;color:#fff;top:409px;letter-spacing:-0.277px;">Service</span>
<span class="t n" style="left:50.00px;font-size:17.6px;font-weight:400;color:#fff;top:460px;letter-spacing:0.006px;">Customers</span>
<span class="t n" style="left:50.00px;font-size:17.6px;font-weight:400;color:#fff;top:510px;letter-spacing:0.066px;">Reports</span>
<span class="t n" style="left:50.00px;font-size:17.6px;font-weight:400;color:#fff;top:561px;letter-spacing:-0.320px;transform:scaleX(0.9999);transform-origin:0 50%;">Financial Services</span>
<span class="t n" style="left:50.00px;font-size:17.6px;font-weight:400;color:#fff;top:611px;letter-spacing:-0.039px;">Settings</span>
</div>

<svg style="left:0;top:0" width="257" height="748" viewBox="0 0 257 748">
  <!-- devices -->
  <g>
    <rect x="19.600" y="637.600" width="13" height="8.600" rx="0.800" fill="#13141a" stroke="#fff" stroke-width="1.200"/>
    <rect x="23.700" y="646.600" width="5" height="3.400" fill="#d0d0d0"/>
    <rect x="19" y="651" width="14.200" height="4" rx="1" fill="#d8d8d8"/>
    <path d="M21 654l1.600-2M23.800 654l1.600-2M26.600 654l1.600-2M29.400 654l1.600-2" stroke="#13141a" stroke-width="0.800"/>
    <path d="M30.700 649.400h5.500v5" fill="none" stroke="#c8c8c8" stroke-width="1.200"/>
  </g>
  <circle cx="230.200" cy="646" r="8.600" fill="#3a1a1d"/>
  <circle cx="230.200" cy="646" r="6.600" fill="#f9545b"/>
  <!-- lock -->
  <g>
    <path d="M97.500 707v-3a3.500 3.500 0 0 1 7 0v3" fill="none" stroke="#c6c6c6" stroke-width="2"/>
    <rect x="94" y="706" width="14" height="10.200" rx="1.200" fill="#fff"/>
    <path d="M101 709.300a1.100 1.100 0 0 1 .6 2l.6 2.200h-2.400l.6-2.200a1.100 1.100 0 0 1 .6-2z" fill="#1d2236"/>
  </g>
</svg>
<div class="a" style="left:6px;top:681px;width:238px;height:53px;border:1px solid #4b4f59;border-radius:4px;box-sizing:border-box"></div>
<div class="a" style="left:0;top:747px;width:257px;height:1px;background:#4e5462"></div>
<span class="t logo" style="left:30.80px;font-size:22.5px;font-weight:400;color:#fff;top:19px;letter-spacing:0.178px;">lightspeed</span>
<span class="t n" style="left:19.60px;font-size:17.6px;font-weight:400;color:#fff;top:69px;letter-spacing:-0.226px;">Retail (R-Series)</span>
<span class="t n" style="left:18.90px;font-size:15.4px;font-weight:400;color:#fff;top:117px;letter-spacing:0.046px;">Test store</span>
<span class="t b" style="left:18.90px;font-size:15.4px;font-weight:700;color:#fff;top:140px;letter-spacing:-0.250px;transform:scaleX(0.9937);transform-origin:0 50%;">Register1</span>
<span class="t b" style="left:197.40px;font-size:14px;font-weight:700;color:#1b1e30;top:189px;letter-spacing:1.429px;">OUT</span>
<span class="t n" style="left:50.10px;font-size:17.6px;font-weight:400;color:#fff;top:636px;letter-spacing:-0.278px;">Devices</span>
<span class="t n" style="left:122.90px;font-size:17.6px;font-weight:400;color:#fff;top:697px;letter-spacing:-0.320px;transform:scaleX(0.9913);transform-origin:0 50%;">Lock</span>

<!-- ================= DIM OVERLAY (spotlight hole 256,255 - 1376,608) ================= -->
<div class="dim" style="left:0;top:0;width:1376px;height:255px"></div>
<div class="dim" style="left:0;top:255px;width:256px;height:353px"></div>
<div class="dim" style="left:0;top:608px;width:1376px;height:140px"></div>
</div>
</body>
</html>
